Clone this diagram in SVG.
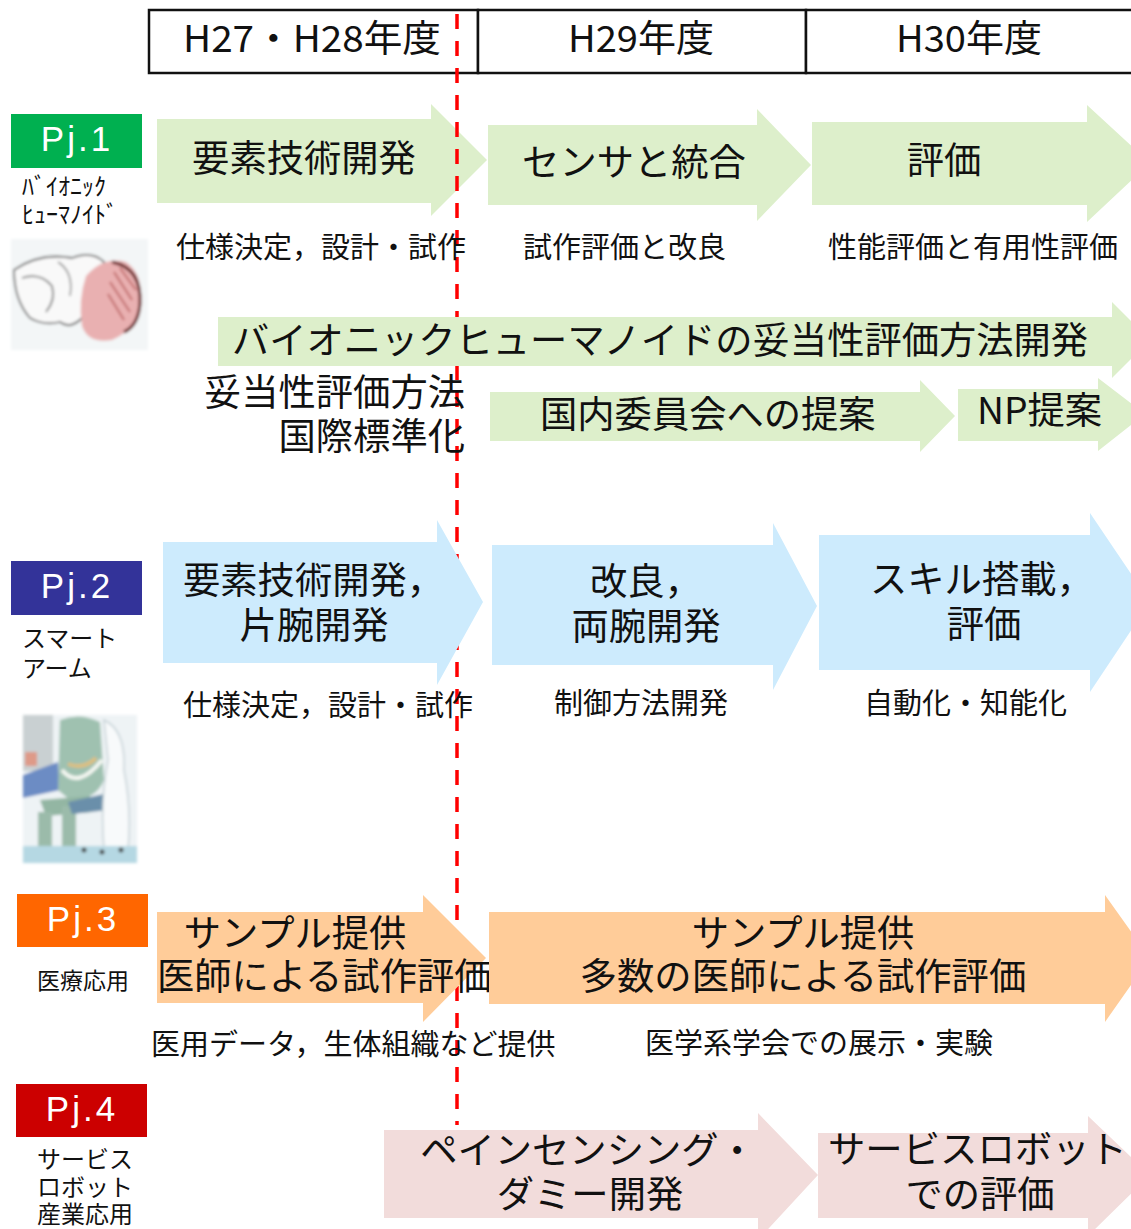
<svg xmlns="http://www.w3.org/2000/svg" width="1131" height="1229" viewBox="0 0 1131 1229">
  <defs>
    <style>
      .jp { font-family: "Noto Sans CJK JP", "Noto Sans", sans-serif; fill: #111; }
      .hd { font-size: 37px; }
      .big { font-size: 37.3px; }
      .sub { font-size: 29px; }
      .lab { font-size: 24px; }
      .pj { font-family: "Liberation Sans", Arial, sans-serif; font-size: 35px; fill: #fff; letter-spacing: 3px; text-anchor: middle; }
      .c { text-anchor: middle; }
      .r { text-anchor: end; }
      .g { fill: #DDEFCB; }
      .b { fill: #CDEBFD; }
      .o { fill: #FFCC99; }
      .p { fill: #F2DCDB; }
      .cell { fill: #fff; stroke: #111; stroke-width: 2.5; }
      .now { stroke: #FF0000; stroke-width: 3.5; stroke-dasharray: 15 12; fill: none; }
    </style>
    <filter id="soft" x="-5%" y="-5%" width="110%" height="110%">
      <feGaussianBlur stdDeviation="1.4"/>
    </filter>
  </defs>
  <rect width="1131" height="1229" fill="#fff"/>

  <!-- year header -->
  <g id="header">
    <rect class="cell" x="149" y="10" width="329" height="63"/>
    <rect class="cell" x="478" y="10" width="328" height="63"/>
    <rect class="cell" x="806" y="10" width="330" height="63"/>
    <text class="jp hd" x="183" y="52" textLength="258" lengthAdjust="spacingAndGlyphs">H27・H28年度</text>
    <text class="jp hd" x="568" y="52" textLength="146" lengthAdjust="spacingAndGlyphs">H29年度</text>
    <text class="jp hd" x="896" y="52" textLength="146" lengthAdjust="spacingAndGlyphs">H30年度</text>
  </g>

  <!-- project labels -->
  <g id="pj1">
    <rect x="11" y="114" width="131" height="54" fill="#00B050"/>
    <text class="pj" x="77" y="151">Pj.1</text>
    <text class="jp lab" x="22" y="195">ﾊﾞｲｵﾆｯｸ</text>
    <text class="jp lab" x="22" y="223">ﾋｭｰﾏﾉｲﾄﾞ</text>
  </g>
  <g id="pj1-figure" filter="url(#soft)">
    <rect x="11" y="239" width="137" height="111" fill="#F3F6F7"/>
    <path d="M14 270 Q40 252 72 258 Q92 250 104 262 L100 280 Q86 296 82 318 Q70 330 60 322 Q44 326 30 318 Q14 300 14 270 Z" fill="#F9F9F9" stroke="#666" stroke-width="1.8"/>
    <path d="M22 278 Q40 272 52 286 Q56 300 46 312" fill="none" stroke="#777" stroke-width="1.8"/>
    <path d="M58 262 Q74 272 70 296" fill="none" stroke="#888" stroke-width="1.5"/>
    <path d="M86 276 Q104 256 126 262 Q144 274 140 304 Q136 330 112 340 Q88 344 82 326 Q78 300 86 276 Z" fill="#E9B0B1"/>
    <path d="M112 262 Q142 268 140 304 Q138 326 124 332" fill="none" stroke="#6B2626" stroke-width="3"/>
    <path d="M114 272 L132 300 M110 282 L130 312 M108 294 L124 320 M120 268 L136 290" stroke="#C06868" stroke-width="2"/>
  </g>

  <g id="pj2">
    <rect x="11" y="561" width="131" height="54" fill="#333399"/>
    <text class="pj" x="77" y="598">Pj.2</text>
    <text class="jp lab" x="22" y="647">スマート</text>
    <text class="jp lab" x="22" y="677">アーム</text>
  </g>
  <g id="pj2-figure" filter="url(#soft)">
    <rect x="23" y="715" width="114" height="148" fill="#EEF3F5"/>
    <rect x="23" y="715" width="30" height="56" fill="#C9D0D2"/>
    <rect x="25" y="752" width="12" height="14" fill="#DE9A88"/>
    <path d="M23 775 L58 762 L60 790 L23 798 Z" fill="#6C8CC4"/>
    <path d="M60 720 Q80 712 100 722 L104 780 Q96 800 70 800 L58 790 Z" fill="#9FC1B0"/>
    <path d="M62 770 Q78 790 102 760" fill="none" stroke="#F4F7F2" stroke-width="4"/>
    <path d="M68 764 Q84 770 96 758" fill="none" stroke="#DDBF80" stroke-width="4"/>
    <path d="M40 800 L90 796 L92 812 L46 816 Z" fill="#93B6A3"/>
    <rect x="38" y="812" width="14" height="44" fill="#9BBBAA"/>
    <rect x="62" y="806" width="14" height="48" fill="#9BBBAA"/>
    <path d="M68 802 L104 794 L108 810 L72 814 Z" fill="#6A8FAA"/>
    <path d="M104 720 Q126 730 124 770 Q132 810 128 850 L104 850 Q100 800 108 760 Z" fill="#F8FAFB" stroke="#C4D0D5" stroke-width="1.5"/>
    <rect x="23" y="846" width="114" height="17" fill="#B5D8E3"/>
    <circle cx="84" cy="850" r="2.5" fill="#444"/>
    <circle cx="102" cy="852" r="2.5" fill="#444"/>
    <circle cx="121" cy="850" r="2.5" fill="#444"/>
  </g>

  <g id="pj3">
    <rect x="17" y="894" width="131" height="53" fill="#FF6600"/>
    <text class="pj" x="83" y="931">Pj.3</text>
    <text class="jp" x="37" y="989" font-size="23">医療応用</text>
  </g>

  <g id="pj4">
    <rect x="16" y="1084" width="131" height="53" fill="#CC0000"/>
    <text class="pj" x="82" y="1121">Pj.4</text>
    <text class="jp lab" x="37" y="1168">サービス</text>
    <text class="jp lab" x="37" y="1196">ロボット</text>
    <text class="jp lab" x="37" y="1223">産業応用</text>
  </g>

  <!-- first phase arrow of Pj.1 sits under the timeline marker -->
  <g id="a1-1">
    <path class="g" d="M157 119 H431 V104 L487 160 L431 216 V203 H157 Z"/>
    <text class="jp big c" x="304" y="172">要素技術開発</text>
  </g>

  <!-- connectors: current-point marker -->
  <g id="connectors">
    <line class="now" x1="457" y1="14" x2="457" y2="1125"/>
  </g>

  <!-- Pj.1 phases -->
  <g id="a1-2">
    <path class="g" d="M488 125 H757 V109 L811 165 L757 221 V205 H488 Z"/>
    <text class="jp big c" x="634" y="176">センサと統合</text>
  </g>
  <g id="a1-3">
    <path class="g" d="M812 122 H1087 V105 L1150 163 L1087 222 V205 H812 Z"/>
    <text class="jp big c" x="944" y="174">評価</text>
  </g>
  <g id="t1">
    <text class="jp sub" x="176" y="258">仕様決定，設計・試作</text>
    <text class="jp sub" x="523" y="258">試作評価と改良</text>
    <text class="jp sub" x="828" y="258">性能評価と有用性評価</text>
  </g>
  <g id="a1-std">
    <path class="g" d="M218 317 H1112 V302 L1150 340 L1112 378 V366 H218 Z"/>
    <text class="jp big" x="232" y="354" font-size="38" textLength="856" lengthAdjust="spacingAndGlyphs">バイオニックヒューマノイドの妥当性評価方法開発</text>
  </g>
  <g id="t1-std">
    <text class="jp big r" x="465" y="406">妥当性評価方法</text>
    <text class="jp big r" x="465" y="450">国際標準化</text>
  </g>
  <g id="a1-jp">
    <path class="g" d="M490 392 H920 V380 L955 416 L920 452 V441 H490 Z"/>
    <text class="jp big" x="540" y="428">国内委員会への提案</text>
  </g>
  <g id="a1-np">
    <path class="g" d="M958 389 H1098 V378 L1145 414 L1098 451 V441 H958 Z"/>
    <text class="jp big" x="977" y="424">NP提案</text>
  </g>

  <!-- Pj.2 phases -->
  <g id="a2-1">
    <path class="b" d="M163 542 H437 V520 L483 602 L437 685 V663 H163 Z"/>
    <text class="jp big" x="183" y="594">要素技術開発，</text>
    <text class="jp big c" x="314" y="639">片腕開発</text>
  </g>
  <g id="a2-2">
    <path class="b" d="M492 545 H773 V523 L817 606 L773 690 V665 H492 Z"/>
    <text class="jp big" x="590" y="595">改良，</text>
    <text class="jp big c" x="646" y="640">両腕開発</text>
  </g>
  <g id="a2-3">
    <path class="b" d="M819 535 H1090 V513 L1150 602 L1090 692 V670 H819 Z"/>
    <text class="jp big" x="870" y="593">スキル搭載，</text>
    <text class="jp big c" x="984" y="638">評価</text>
  </g>
  <g id="t2">
    <text class="jp sub" x="183" y="716">仕様決定，設計・試作</text>
    <text class="jp sub" x="554" y="714">制御方法開発</text>
    <text class="jp sub" x="864" y="714">自動化・知能化</text>
  </g>

  <!-- Pj.3 phases -->
  <g id="a3-1">
    <path class="o" d="M157 912 H423 V895 L486 958 L423 1022 V1003 H157 Z"/>
    <text class="jp big c" x="295" y="947">サンプル提供</text>
    <text class="jp big" x="157" y="990">医師による試作評価</text>
  </g>
  <g id="a3-2">
    <path class="o" d="M489 912 H1105 V895 L1150 958 L1105 1022 V1004 H489 Z"/>
    <text class="jp big c" x="803" y="947">サンプル提供</text>
    <text class="jp big c" x="803" y="990">多数の医師による試作評価</text>
  </g>
  <g id="t3">
    <text class="jp sub" x="151" y="1055">医用データ，生体組織など提供</text>
    <text class="jp sub" x="645" y="1054">医学系学会での展示・実験</text>
  </g>

  <!-- Pj.4 phases -->
  <g id="a4-1">
    <path class="p" d="M384 1130 H758 V1113 L818 1175 L758 1240 V1218 H384 Z"/>
    <text class="jp big c" x="588" y="1164">ペインセンシング・</text>
    <text class="jp big c" x="590" y="1208">ダミー開発</text>
  </g>
  <g id="a4-2">
    <path class="p" d="M818 1133 H1088 V1116 L1150 1175 L1088 1236 V1218 H818 Z"/>
    <text class="jp big" x="828" y="1163" textLength="299" lengthAdjust="spacingAndGlyphs">サービスロボット</text>
    <text class="jp big c" x="980" y="1208">での評価</text>
  </g>
</svg>
